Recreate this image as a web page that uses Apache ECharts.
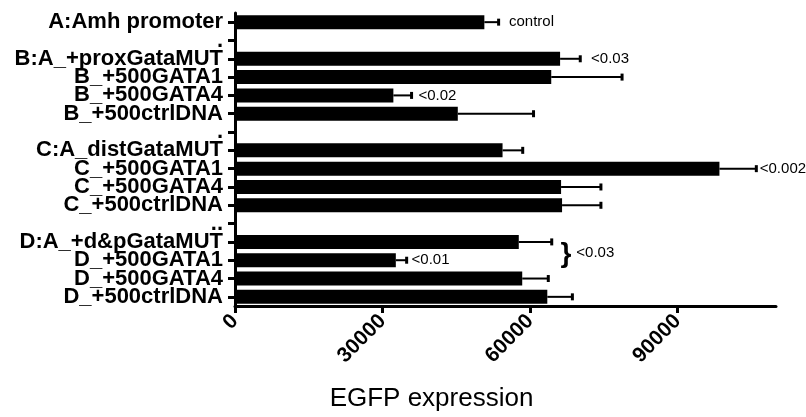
<!DOCTYPE html>
<html><head><meta charset="utf-8">
<script src="https://cdn.jsdelivr.net/npm/echarts@6/dist/echarts.min.js"></script>
<style>html,body{margin:0;padding:0;background:#fff}#c{width:806px;height:417px}</style>
</head><body><div id="c"></div>
<script>
// Category rows (top to bottom); '.' rows are spacer rows
const categories = ['A:Amh promoter', '.', 'B:A_+proxGataMUT', 'B_+500GATA1', 'B_+500GATA4', 'B_+500ctrlDNA',
  '.', 'C:A_distGataMUT', 'C_+500GATA1', 'C_+500GATA4', 'C_+500ctrlDNA',
  '..', 'D:A_+d&pGataMUT', 'D_+500GATA1', 'D_+500GATA4', 'D_+500ctrlDNA'];
// Mean EGFP expression
const means = [50700, null, 66100, 64300, 32200, 45300, null, 54400, 98500, 66300, 66500, null, 57700, 32700, 58400, 63500];
// Error (upper whisker length)
const errors = [2900, null, 4100, 14400, 3700, 15400, null, 4100, 7500, 8100, 7900, null, 6700, 2200, 5300, 5100];
// Annotations: text, row (category index, may be fractional), x value where text starts
const annotTexts = ['control', '<0.03', '<0.02', '<0.002', '<0.01', '}', '<0.03'];
const annotRows  = [0, 2, 4, 8, 13, 12.7, 12.6];
const annotX     = [55700, 72400, 37300, 106700, 35900, 66200, 69400];
const annotSizes = [15, 15, 15, 15, 15, 28, 15];
const xTicks = [0, 30000, 60000, 90000];

const FONT = '"Liberation Sans", Arial, sans-serif';
const chart = echarts.init(document.getElementById('c'));

const errData = [];
means.forEach((m, i) => { if (m != null) errData.push([i, m, m + errors[i]]); });
const annData = annotTexts.map((t, i) => [annotRows[i], annotX[i], i]);

function rowY(api, x, r) {
  const r0 = Math.floor(r), r1 = Math.ceil(r);
  const p0 = api.coord([x, r0]);
  if (r0 === r1) return p0;
  const p1 = api.coord([x, r1]);
  const f = r - r0;
  return [p0[0], p0[1] + f * (p1[1] - p0[1])];
}

chart.setOption({
  animation: false,
  backgroundColor: '#fff',
  grid: { left: 235, right: 30, top: 13, bottom: 111, containLabel: false },
  xAxis: {
    type: 'value', min: 0, max: 110000,
    axisLine: { show: true, lineStyle: { color: '#000', width: 3 } },
    axisTick: { show: true, length: 7, customValues: xTicks, lineStyle: { color: '#000', width: 3 } },
    axisLabel: { customValues: xTicks, formatter: v => String(v), rotate: 45, margin: 12, color: '#000', fontSize: 21, fontWeight: 'bold', fontFamily: FONT },
    splitLine: { show: false },
    name: 'EGFP expression', nameLocation: 'middle', nameGap: 80,
    nameTextStyle: { color: '#000', fontSize: 26, fontFamily: FONT, padding: [0, 148, 0, 0] }
  },
  yAxis: {
    type: 'category', inverse: true, data: categories,
    axisLine: { show: true, lineStyle: { color: '#000', width: 3 } },
    axisTick: { show: true, alignWithLabel: true, length: 7, lineStyle: { color: '#000', width: 3 } },
    axisLabel: { interval: 0, margin: 12, color: '#000', fontSize: 22, fontWeight: 'bold', fontFamily: FONT }
  },
  series: [
    { type: 'bar', data: means, barWidth: 14, itemStyle: { color: '#000' }, z: 2 },
    {
      type: 'custom', data: errData, encode: { y: 0, x: [1, 2] }, z: 3,
      renderItem: (params, api) => {
        const a = api.coord([api.value(1), api.value(0)]);
        const b = api.coord([api.value(2), api.value(0)]);
        return { type: 'group', children: [
          { type: 'line', shape: { x1: a[0], y1: a[1], x2: b[0], y2: b[1] }, style: { stroke: '#000', lineWidth: 2 } },
          { type: 'rect', shape: { x: b[0] - 1.5, y: b[1] - 3.5, width: 3, height: 7 }, style: { fill: '#000' } }
        ] };
      }
    },
    {
      type: 'custom', data: annData, encode: { y: 0, x: 1 }, z: 4,
      renderItem: (params, api) => {
        const idx = api.value(2);
        const p = rowY(api, api.value(1), api.value(0));
        return { type: 'text', style: {
          text: annotTexts[idx], x: p[0], y: p[1], verticalAlign: 'middle', align: 'left',
          font: (idx === 5 ? 'bold ' : '') + annotSizes[idx] + 'px ' + FONT, fill: '#000'
        } };
      }
    }
  ]
});
</script></body></html>
